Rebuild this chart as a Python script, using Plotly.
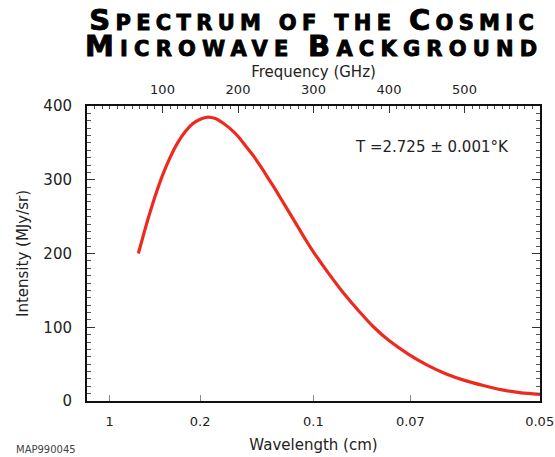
import plotly.graph_objects as go

# ---- data ----
freq_ghz = [68, 75, 80, 90, 100, 110, 120, 130, 140, 150, 160, 170, 180, 190, 200,
            210, 220, 230, 240, 250, 260, 270, 280, 290, 300, 320, 340, 360, 380,
            400, 425, 450, 475, 500, 525, 550, 575, 600]
intensity_mjy_sr = [200, 226, 244, 277, 306, 330, 350, 365, 376, 382, 385, 383,
                    377, 369, 359, 346, 333, 318, 302, 286, 269, 252, 235, 218,
                    202, 173, 146, 122, 100, 82, 64, 49, 37, 28, 21, 15, 11, 9]

freq_ticks = [100, 200, 300, 400, 500]
freq_minor = list(range(10, 600, 10))
wavelength_cm = [1, 0.2, 0.1, 0.07, 0.05]
wavelength_labels = ["1", "0.2", "0.1", "0.07", "0.05"]

C_CM_GHZ = 29.9792458  # c in cm*GHz
wavelength_pos = [C_CM_GHZ / w for w in wavelength_cm]

W, H = 555, 457
L, T = 87, 106
PW, PH = 453, 295
R, B = W - L - PW, H - T - PH


def px(x):  # window pixel -> paper x
    return (x - L) / PW


def py(y):  # window pixel -> paper y
    return (T + PH - y) / PH


FONT = "DejaVu Sans"
TXT = "#222222"

fig = go.Figure()
fig.add_trace(go.Scatter(
    x=freq_ghz, y=intensity_mjy_sr, mode="lines",
    line=dict(color="#ee2a1e", width=3.2, shape="spline", smoothing=0.6),
    showlegend=False, hoverinfo="skip"))
fig.add_trace(go.Scatter(
    x=freq_ghz, y=intensity_mjy_sr, xaxis="x2", mode="lines",
    line=dict(color="rgba(0,0,0,0)", width=0),
    showlegend=False, hoverinfo="skip"))

fig.update_layout(
    width=W, height=H,
    margin=dict(l=L, r=R, t=T, b=B, pad=0, autoexpand=False),
    paper_bgcolor="white", plot_bgcolor="white",
    font=dict(family=FONT, color=TXT),
    xaxis=dict(
        range=[0, 600], showgrid=False, zeroline=False, automargin=False,
        showline=True, linecolor="#111111", linewidth=2, mirror=False,
        tickmode="array", tickvals=wavelength_pos, ticktext=wavelength_labels,
        ticks="inside", ticklen=6, tickwidth=1, tickcolor="#888888",
        tickfont=dict(size=13, color=TXT), ticklabelstandoff=7,
        title=dict(text="Wavelength (cm)", font=dict(size=15, color=TXT), standoff=12),
    ),
    xaxis2=dict(
        range=[0, 600], overlaying="x", side="top", anchor="y",
        showgrid=False, zeroline=False, automargin=False,
        showline=True, linecolor="#111111", linewidth=2,
        tickmode="array", tickvals=freq_ticks,
        ticks="inside", ticklen=7, tickwidth=1, tickcolor="#333333",
        minor=dict(tickmode="array", tickvals=freq_minor, ticks="inside",
                   ticklen=3, tickwidth=1, tickcolor="#555555"),
        tickfont=dict(size=13, color=TXT), ticklabelstandoff=5,
        title=dict(text="Frequency (GHz)", font=dict(size=15, color=TXT), standoff=1),
    ),
    yaxis=dict(
        range=[0, 400], showgrid=False, zeroline=False, automargin=False,
        showline=True, linecolor="#111111", linewidth=2, mirror="ticks",
        tickmode="linear", tick0=0, dtick=100,
        ticks="inside", ticklen=8, tickwidth=1, tickcolor="#333333",
        minor=dict(dtick=10, ticks="inside", ticklen=4, tickwidth=1, tickcolor="#555555"),
        tickfont=dict(size=15, color=TXT), ticklabelstandoff=10,
        title=dict(text="Intensity (MJy/sr)", font=dict(size=15, color=TXT), standoff=11),
    ),
)

BASE = 20   # sets the line spacing of the two-line title (1.3 x BASE)
BIG = 29
SMALL = 21
STY = "letter-spacing:{ls}px;stroke:#000;stroke-width:0.9px;font-size:{fs}px"


def sc(parts, ls):
    out = ""
    for txt, big in parts:
        out += "<span style='" + STY.format(ls=ls, fs=BIG if big else SMALL) + "'>" + txt + "</span>"
    return out


line1 = sc([("S", True), ("PECTRUM OF THE ", False), ("C", True), ("OSMIC", False)], 5.3)
line2 = sc([("M", True), ("ICROWAVE ", False), ("B", True), ("ACKGROUND", False)], 6.2)

fig.add_annotation(text=line1 + "<br>" + line2, xref="paper", yref="paper",
                   x=px(314), y=py(32.5), xanchor="center", yanchor="middle",
                   align="center", showarrow=False,
                   font=dict(family=FONT, size=BASE, color="#000", weight="bold"))
fig.add_annotation(text="T =2.725 ± 0.001°K", xref="paper", yref="paper",
                   x=px(353), y=py(147), xanchor="left", yanchor="middle",
                   showarrow=False, font=dict(family=FONT, size=15, color=TXT))
fig.add_annotation(text="MAP990045", xref="paper", yref="paper",
                   x=px(14), y=py(449), xanchor="left", yanchor="middle",
                   showarrow=False, font=dict(family=FONT, size=10, color="#444444"))

# remove the page's default 8px body margin so the 555x457 figure fills the window
fig.write_html("out.html", config={"displayModeBar": False},
               post_script="document.body.style.margin='0px';")
